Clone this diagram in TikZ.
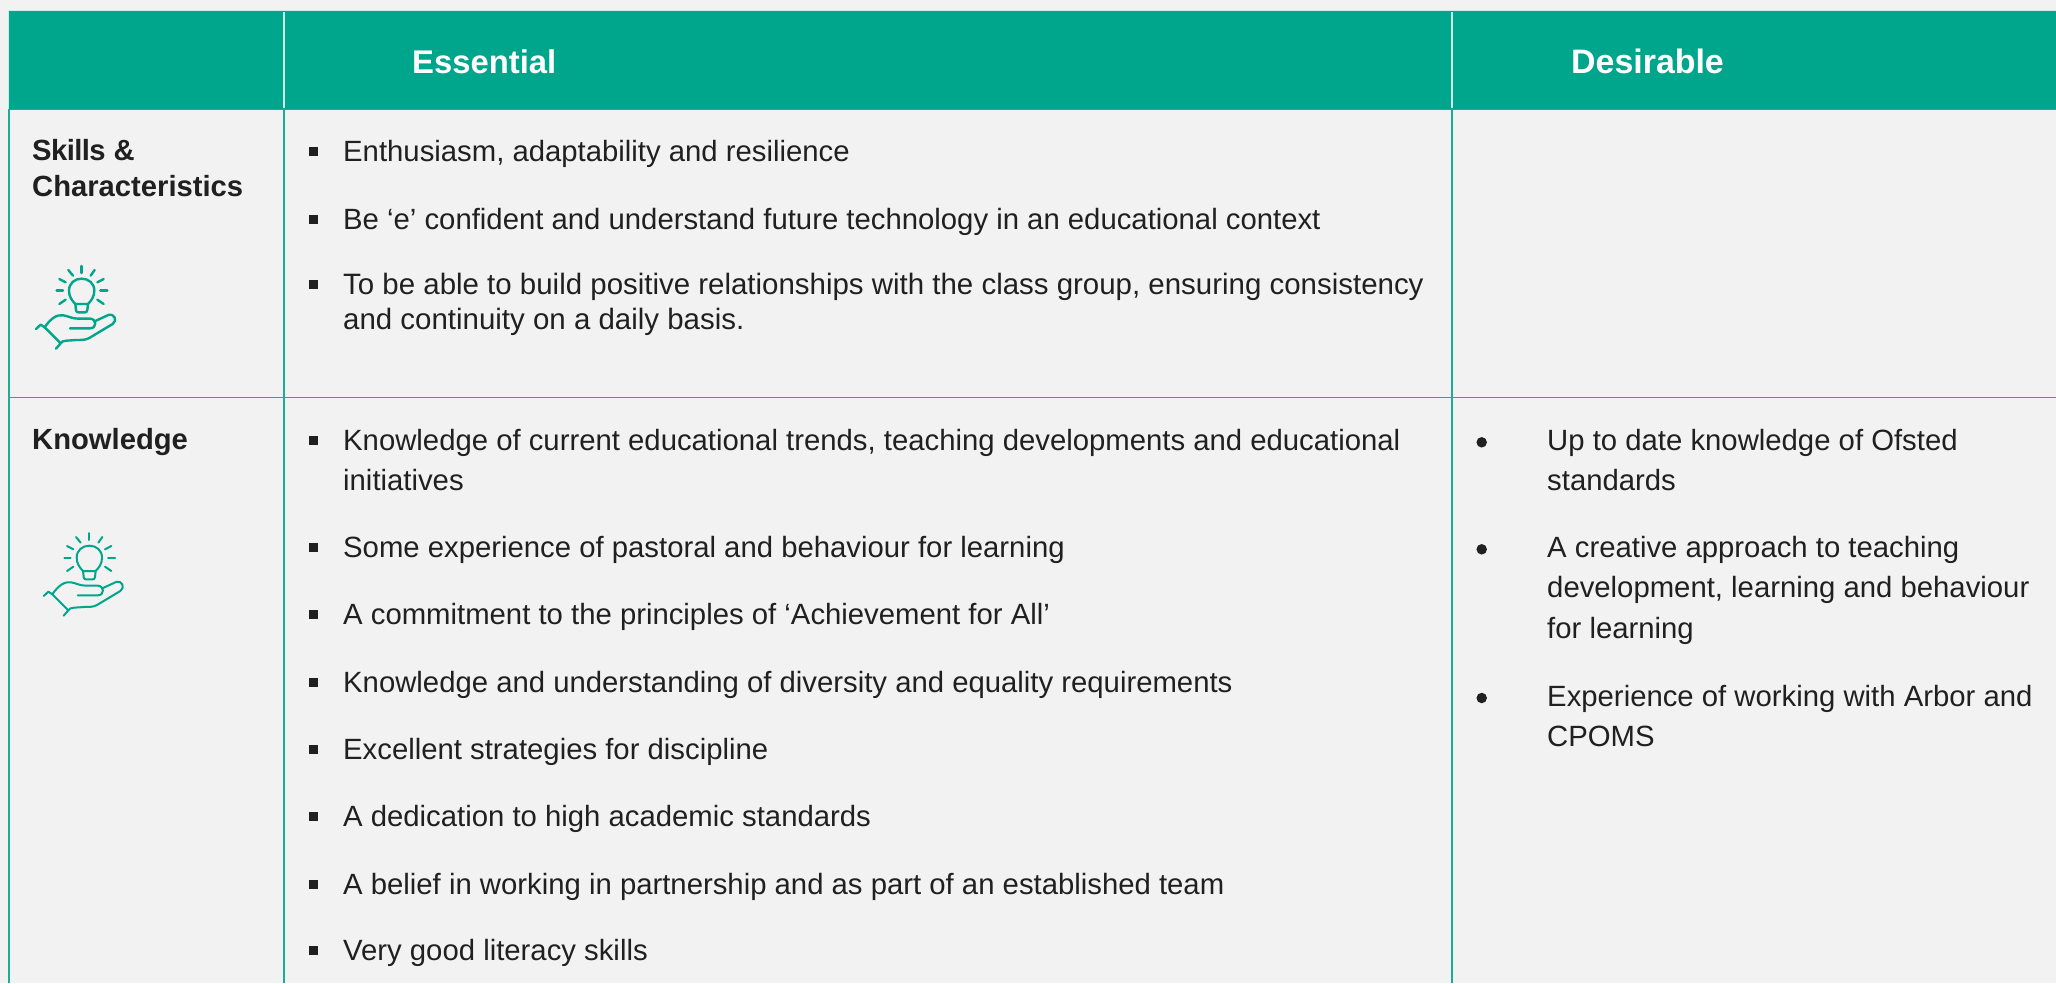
\documentclass[tikz,border=0pt]{standalone}
\usepackage{fontspec}
\setmainfont{Liberation Sans}
\definecolor{teal1}{HTML}{00A68C}
\definecolor{bgc}{HTML}{F2F2F2}
\definecolor{txt}{HTML}{202020}
\newcommand{\twol}[2]{\vtop{\hbox{#1}\hbox{#2}}}
\newcommand{\thrl}[3]{\vtop{\hbox{#1}\hbox{#2}\hbox{#3}}}
\tikzset{
  x=1pt,y=-1pt,
  itemtext/.style={anchor=base west,inner sep=0pt,text=txt,font=\fontsize{29.3}{40.6}\selectfont},
  rowhead/.style={anchor=base west,inner sep=0pt,text=txt,font=\fontsize{29.2}{36}\selectfont\bfseries},
  colhead/.style={anchor=base west,inner sep=0pt,text=white,font=\fontsize{32.8}{40}\selectfont\bfseries},
  sqb/.style={fill=txt,inner sep=0pt,minimum size=9pt,rectangle,draw=none},
  rdb/.style={fill=txt,inner sep=0pt,minimum size=10.5pt,circle,draw=none},
  rule/.style={draw=teal1!90!white,line width=1.3pt},
  hdrrule/.style={draw=white!80!teal1,line width=1.2pt},
  icon/.pic={
    \begin{scope}[x=0.3333pt,y=-0.3333pt,draw=teal1,line cap=round,line join=round]
      \draw (226,222) .. controls (216,212) and (207,200) .. (207,182)
         .. controls (207,160) and (224,146) .. (245,146)
         .. controls (266,146) and (283,160) .. (283,182)
         .. controls (283,200) and (274,212) .. (264,222);
      \draw (226,222) -- (264,222) -- (262,240) .. controls (261,246) and (259,247) .. (255,247)
         -- (235,247) .. controls (231,247) and (229,246) .. (228,240) -- cycle;
      \draw (245,108) -- (245,129);
      \draw (205,120) -- (219,137);
      \draw (284,120) -- (272,137);
      \draw (178,147) -- (197,157);
      \draw (311,147) -- (292,157);
      \draw (170,182) -- (189,182);
      \draw (301,182) -- (322,182);
      \draw (178,222) -- (197,209);
      \draw (311,222) -- (292,209);
      \draw (108,297) -- (122,284) -- (134,292) -- (182,340) -- (168,356);
      \draw (134,292) .. controls (150,268) and (170,252) .. (190,256)
         .. controls (205,258) and (215,266) .. (235,266) -- (270,266)
         .. controls (290,266) and (292,295) .. (270,295) -- (210,295);
      \draw (284,274) -- (325,255) .. controls (345,250) and (352,272) .. (338,282)
         -- (268,324) .. controls (258,330) and (245,330) .. (230,330)
         -- (200,332) .. controls (190,332) and (185,335) .. (182,340);
    \end{scope}
  }
}
\begin{document}
\begin{tikzpicture}
\useasboundingbox (0,0) rectangle (2056,983);
\fill[bgc] (0,0) rectangle (2056,983);
\fill[teal1] (8,10) rectangle (2056,109);
\draw[hdrrule] (8,10.5) -- (2056,10.5);
\draw[hdrrule] (8.7,10) -- (8.7,109);
\draw[hdrrule] (284,12) -- (284,108);
\draw[hdrrule] (1452,12) -- (1452,108);
\draw[rule] (8,109.3) -- (2056,109.3);
\draw[rule] (8,397.3) -- (2056,397.3);
\draw[rule] (9,109) -- (9,983);
\draw[rule] (284,109) -- (284,983);
\draw[rule] (1452,109) -- (1452,983);

\node[colhead] (hE) at (412,73.4) {Essential};
\node[colhead,font=\fontsize{33.9}{40}\selectfont\bfseries] (hD) at (1571,73.4) {Desirable};

\node[rowhead] (rS) at (32,160) {\twol{{\addfontfeature{LetterSpace=-2}Skills} \&}{Characteristics}};
\node[rowhead] (rK) at (32,449) {Knowledge};
\begin{scope}[line width=2.4pt]
\pic at (0,230) {icon};
\end{scope}
\begin{scope}[line width=2pt]
\pic at (7.7,497) {icon};
\end{scope}

\foreach \y in {151,219.4,284.5,440,547,614,682,749,816,884,950}
  \node[sqb] at (313.8,\y) {};
\node[itemtext] (a1) at (343,161) {Enthusiasm, adaptability and resilience};
\node[itemtext] (a2) at (343,229.4) {Be ‘e’ confident and understand future technology in an educational context};
\node[itemtext,font=\fontsize{29.45}{35}\selectfont] (a3) at (343,294.5) {\twol{To be able to build positive relationships with the class group, ensuring consistency}{and continuity on a daily basis.}};
\node[itemtext] (b1) at (343,450) {\twol{Knowledge of current educational trends, teaching developments and educational}{initiatives}};
\node[itemtext] (b2) at (343,557) {Some experience of pastoral and behaviour for learning};
\node[itemtext] (b3) at (343,624) {A commitment to the principles of ‘Achievement for All’};
\node[itemtext] (b4) at (343,692) {Knowledge and understanding of diversity and equality requirements};
\node[itemtext] (b5) at (343,759) {Excellent strategies for discipline};
\node[itemtext] (b6) at (343,826) {A dedication to high academic standards};
\node[itemtext] (b7) at (343,894) {A belief in working in partnership and as part of an established team};
\node[itemtext] (b8) at (343,960) {Very good literacy skills};

\foreach \y in {442.3,549.3,698}
  \node[rdb] at (1481.7,\y) {};
\node[itemtext] (c1) at (1547,450) {\twol{Up to date knowledge of Ofsted}{standards}};
\node[itemtext] (c2) at (1547,557) {\thrl{A creative approach to teaching}{development, learning and behaviour}{for learning}};
\node[itemtext] (c3) at (1547,706) {\twol{Experience of working with Arbor and}{CPOMS}};
\end{tikzpicture}
\end{document}
